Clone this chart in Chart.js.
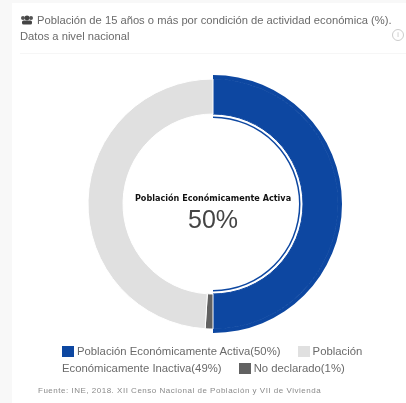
<!DOCTYPE html>
<html lang="es">
<head>
<meta charset="utf-8">
<script src="https://cdn.jsdelivr.net/npm/chart.js@4"></script>
<style>
  html, body { margin: 0; padding: 0; background: #f8f8f8; }
  body { width: 406px; height: 403px; overflow: hidden; font-family: "Liberation Sans", Arial, sans-serif; color: #666; }
  #page { position: absolute; left: 0; top: 0; width: 406px; height: 403px; filter: blur(0.6px); }
  #card { position: absolute; left: 12px; top: 3px; width: 394px; height: 400px; background: #fff; }
  #rule { position: absolute; left: 20px; top: 53px; width: 386px; height: 1px; background: #f6f6f6; }
  #title { position: absolute; left: 20px; top: 12px; width: 376px; font-size: 11.2px; line-height: 16px; color: #6a6a6a; }
  #title svg { vertical-align: -1px; }
  #info { position: absolute; left: 392px; top: 29px; width: 10px; height: 10px; border: 1px solid #ccc; border-radius: 50%; color: #bbb; font-size: 7px; line-height: 10px; text-align: center; }
  #myChart { position: absolute; left: 0; top: 0; }
  #legend { position: absolute; left: 62px; top: 343px; width: 310px; font-size: 11.3px; line-height: 17px; color: #6a6a6a; }
  #legend i { display: inline-block; width: 12px; height: 11px; vertical-align: -2px; margin-right: 3px; }
  #legend span { margin-right: 14px; }
  #source { position: absolute; left: 38px; top: 386px; font-size: 8px; letter-spacing: 0.51px; color: #8a8a8a; }
</style>
</head>
<body>
<div id="page">
<div id="card"></div>
<div id="rule"></div>
<div id="title"><svg width="14" height="10" viewBox="0 0 14 10"><circle cx="3" cy="3" r="2" fill="#555"/><circle cx="11" cy="3" r="2" fill="#555"/><circle cx="7" cy="3" r="2.4" fill="#444"/><rect x="2" y="5.5" width="10" height="4" rx="1.5" fill="#444"/></svg> Población de 15 años o más por condición de actividad económica (%).<br>Datos a nivel nacional</div>
<div id="info">i</div>
<canvas id="myChart" width="406" height="403"></canvas>
<div id="legend"></div>
<div id="source">Fuente: INE, 2018. XII Censo Nacional de Población y VII de Vivienda</div>
</div>
<script>
'use strict';

let categories = ['Población Económicamente Activa', 'Población Económicamente Inactiva', 'No declarado'];
let values = [50, 49, 1];
let colors = ['#0d47a1', '#e0e0e0', '#616161'];
let drawOrder = [0, 2, 1];
let centerTitle = 'Población Económicamente Activa';
let centerValue = '50%';

// legend wraps in the middle of a label, so it is plain html
let legend = document.getElementById('legend');
for (let i = 0; i < categories.length; i++) {
  let span = document.createElement('span');
  span.innerHTML = `<i style="background:${colors[i]}"></i>${categories[i]}(${values[i]}%)`;
  legend.appendChild(span);
  legend.appendChild(document.createTextNode(' '));
}

let labels = drawOrder.map(i => categories[i]);
let data = drawOrder.map(i => values[i]);
let sliceColors = drawOrder.map(i => colors[i]);
// only the first slice (the active one) shows in these rings
let activeOnly = ['#0d47a1', 'transparent', 'transparent'];

const centerText = {
  id: 'centerText',
  afterDraw(chart) {
    let ctx = chart.ctx;
    let arc = chart.getDatasetMeta(0).data[0];
    ctx.save();
    ctx.textAlign = 'center';
    ctx.textBaseline = 'middle';
    ctx.fillStyle = '#111';
    ctx.font = 'bold 8.1px "DejaVu Sans"';
    ctx.fillText(centerTitle, arc.x, arc.y - 5);
    ctx.fillStyle = '#444';
    ctx.font = '25px "Liberation Sans"';
    ctx.fillText(centerValue, arc.x, arc.y + 17);
    ctx.restore();
  }
};

const myChart = new Chart(document.getElementById('myChart'), {
  type: 'doughnut',
  data: {
    labels: labels,
    datasets: [
      // blue slice sticks out a bit past the others
      { data: data, backgroundColor: activeOnly, borderWidth: 0, weight: 4 },
      { data: data, backgroundColor: sliceColors, borderColor: ['#0d47a1', '#fff', '#fff'], borderWidth: 1, weight: 35 },
      { data: data, backgroundColor: 'transparent', borderWidth: 0, weight: 2.5 },
      { data: data, backgroundColor: activeOnly, borderWidth: 0, weight: 1.5 }
    ]
  },
  options: {
    responsive: false,
    animation: false,
    cutout: 86,
    layout: { padding: { left: 20, right: 0, top: 75, bottom: 70 } },
    plugins: { legend: { display: false }, tooltip: { enabled: false } }
  },
  plugins: [centerText]
});
</script>
</body>
</html>
